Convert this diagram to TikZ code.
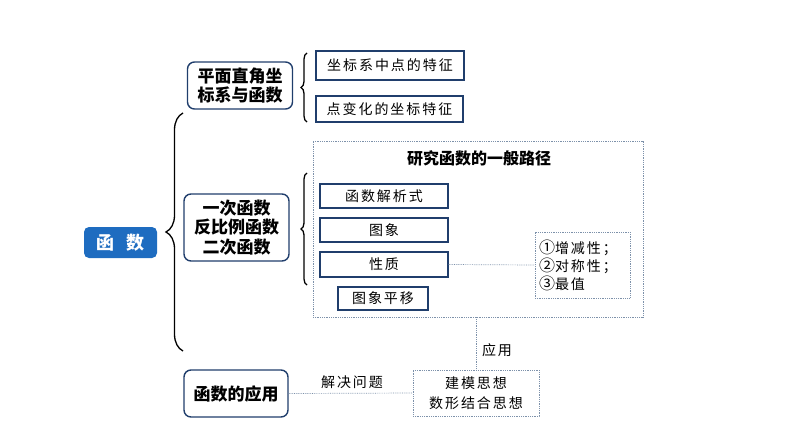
\documentclass[tikz,border=0pt]{standalone}
\usepackage{fontspec}
\setmainfont{Noto Sans CJK SC}
\newfontfamily\spacedcjk[LetterSpace=14]{Noto Sans CJK SC}
\usetikzlibrary{decorations.pathreplacing}
\definecolor{boxblue}{RGB}{32,62,108}
\definecolor{mainblue}{RGB}{30,108,192}
\definecolor{dotgray}{RGB}{125,145,170}
\begin{document}
\begin{tikzpicture}[x=1pt,y=-1pt,
  bigbox/.style={draw=boxblue, line width=1.4pt, rounded corners=7pt, font=\bfseries\fontsize{17}{19.5}\selectfont, align=center, inner sep=0pt},
  smallbox/.style={draw=boxblue, line width=1.4pt, inner sep=0pt, font=\spacedcjk\fontsize{14}{16}\selectfont},
  dotbox/.style={draw=dotgray, dash pattern=on 0.8pt off 1pt, line width=0.8pt},
  dotline/.style={draw=dotgray, dash pattern=on 0.8pt off 1pt, line width=0.7pt},
  plaintext/.style={font=\spacedcjk\fontsize{14}{20}\selectfont, inner sep=0pt},
  bracestyle/.style={decorate, decoration={brace, amplitude=#1}, line width=1.3pt},
]
\useasboundingbox (0,0) rectangle (794,447);

\node[fill=mainblue, rounded corners=5pt, minimum width=73pt, minimum height=31pt, text=white, font=\bfseries\fontsize{18}{20}\selectfont] (main) at (120.5,242.5) {函\hspace{0.7em}数};

\node[bigbox, minimum width=105pt, minimum height=47pt] (coord) at (240,85.5) {平面直角坐\\标系与函数};
\node[bigbox, minimum width=105pt, minimum height=67pt] (funcs) at (236.5,227.5) {一次函数\\反比例函数\\二次函数};
\node[bigbox, minimum width=104pt, minimum height=47pt] (app) at (236,393.5) {函数的应用};

\draw[bracestyle=17pt] (183,351) -- (183,113);

\node[smallbox, minimum width=148pt, minimum height=29pt] (pt1) at (390,65.5) {坐标系中点的特征};
\node[smallbox, minimum width=147pt, minimum height=26pt] (pt2) at (389.5,109) {点变化的坐标特征};
\draw[bracestyle=6pt] (307,122) -- (307,53);

\node[dotbox, minimum width=330pt, minimum height=176pt] (path) at (478,229) {};
\node[font=\bfseries\fontsize{16}{18}\selectfont, inner sep=0pt] (title) at (479,158) {研究函数的一般路径};
\draw[bracestyle=6pt] (307,285) -- (307,173);

\node[smallbox, minimum width=128pt, minimum height=24pt] (expr) at (384,196) {函数解析式};
\node[smallbox, minimum width=128pt, minimum height=24pt] (graph) at (384,230) {图象};
\node[smallbox, minimum width=128pt, minimum height=25pt] (prop) at (384,264.5) {性质};
\node[smallbox, minimum width=90pt, minimum height=23pt] (shift) at (383,298.5) {图象平移};

\node[dotbox, minimum height=66pt, text width=87pt, inner xsep=4pt, inner ysep=0pt, align=left, font=\spacedcjk\fontsize{14}{18}\selectfont] (props) at (582.5,265) {{\fontsize{16}{18}\selectfont ①}增减性；\\{\fontsize{16}{18}\selectfont ②}对称性；\\{\fontsize{16}{18}\selectfont ③}最值};
\draw[dotline] (prop.east) -- (props.west);

\node[dotbox, minimum width=126pt, minimum height=46pt, inner sep=0pt, align=center, font=\spacedcjk\fontsize{14}{20}\selectfont] (model) at (476,393) {建模思想\\数形结合思想};
\draw[dotline] (app.east) -- (model.west);
\draw[dotline] (model.north |- path.south) -- (model.north);
\node[plaintext] (solve) at (352,382) {解决问题};
\node[plaintext] (use) at (497,350) {应用};
\end{tikzpicture}
\end{document}
